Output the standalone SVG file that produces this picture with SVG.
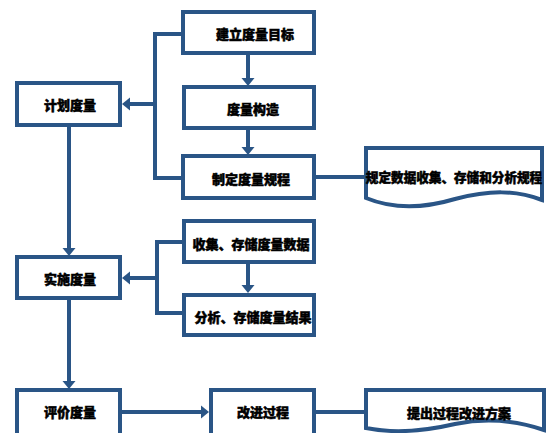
<svg xmlns="http://www.w3.org/2000/svg" width="552" height="433" viewBox="0 0 552 433">
<style>
.box{fill:#fff;stroke:#2A5586;stroke-width:4}
.ln{fill:none;stroke:#2A5586;stroke-width:4}
.ah{fill:#2A5586}
.t{font-family:"Noto Sans CJK SC","Noto Sans",sans-serif;font-weight:900;font-size:13px;fill:#000;stroke:#000;stroke-width:0.5;text-anchor:middle;dominant-baseline:central}
</style>
<rect width="552" height="433" fill="#fff"/>
<g id="connectors">
<path class="ln" d="M183,34 H155 V178 H183"/>
<path class="ln" d="M155,104 H128"/><polygon class="ah" points="122,104 130,97.5 130,110.5"/>
<path class="ln" d="M248,55 V79"/><polygon class="ah" points="248,86 241.5,78 254.5,78"/>
<path class="ln" d="M248,130 V148"/><polygon class="ah" points="248,155 241.5,147 254.5,147"/>
<path class="ln" d="M316,177 H366"/>
<path class="ln" d="M69,127 V249"/><polygon class="ah" points="69,256 62.5,248 75.5,248"/>
<path class="ln" d="M184,242 H157 V313 H184"/>
<path class="ln" d="M157,278 H128"/><polygon class="ah" points="122,278 130,271.5 130,284.5"/>
<path class="ln" d="M248,264 V286"/><polygon class="ah" points="248,293 241.5,285 254.5,285"/>
<path class="ln" d="M69,300 V381"/><polygon class="ah" points="69,389 62.5,381 75.5,381"/>
<path class="ln" d="M122,412 H202"/><polygon class="ah" points="209,412 201,405.5 201,418.5"/>
<path class="ln" d="M316,412 H366"/>
</g>
<g id="n1"><rect class="box" x="183" y="12" width="131" height="41"/><text class="t" x="255" y="33">建立度量目标</text></g>
<g id="n2"><rect class="box" x="184" y="87" width="130" height="41"/><text class="t" x="253" y="108">度量构造</text></g>
<g id="n3"><rect class="box" x="183" y="156" width="131" height="42"/><text class="t" x="251" y="178">制定度量规程</text></g>
<g id="n4"><path class="box" d="M366,148 H542 V200 C515,190 490,190 455,199 C425,208 395,210 366,198 Z"/><text class="t" x="454" y="176" style="font-size:12.6px">规定数据收集、存储和分析规程</text></g>
<g id="n5"><rect class="box" x="17" y="83" width="103" height="42"/><text class="t" x="70" y="104">计划度量</text></g>
<g id="n6"><rect class="box" x="17" y="257" width="103" height="41"/><text class="t" x="70" y="278">实施度量</text></g>
<g id="n7"><rect class="box" x="184" y="221" width="130" height="41"/><text class="t" x="251" y="243">收集、存储度量数据</text></g>
<g id="n8"><rect class="box" x="184" y="295" width="130" height="40"/><text class="t" x="253" y="316">分析、存储度量结果</text></g>
<g id="n9"><rect class="box" x="17" y="390" width="103" height="60"/><text class="t" x="70" y="411">评价度量</text></g>
<g id="n10"><rect class="box" x="211" y="390" width="103" height="60"/><text class="t" x="263" y="411">改进过程</text></g>
<g id="n11"><path class="box" d="M366,390 H544 V430 C515,420 485,418 455,424 C425,431 395,434 366,428 Z"/><text class="t" x="459" y="412">提出过程改进方案</text></g>
</svg>
